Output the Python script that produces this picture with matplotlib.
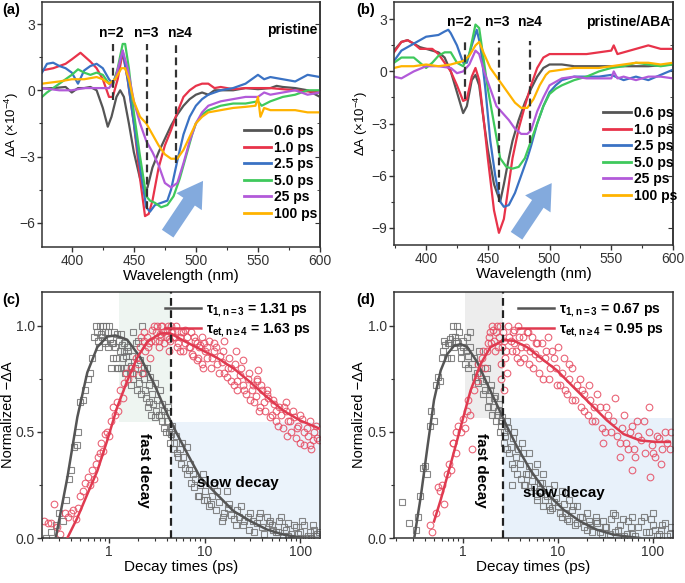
import matplotlib
matplotlib.use("Agg")
import matplotlib.pyplot as plt
from matplotlib.ticker import MultipleLocator, FixedLocator, FixedFormatter, NullFormatter, LogLocator

plt.rcParams['font.family'] = ['Liberation Sans', 'DejaVu Sans']
plt.rcParams['mathtext.fontset'] = 'custom'
plt.rcParams['mathtext.rm'] = 'Liberation Sans'
plt.rcParams['mathtext.bf'] = 'Liberation Sans:bold'
plt.rcParams['font.size'] = 10

# ---------------- panel (a): pristine spectra ----------------
labels = ['0.6 ps', '1.0 ps', '2.5 ps', '5.0 ps', '25 ps', '100 ps']
colors = ['#555555', '#e8334a', '#3a72c4', '#3fc95c', '#b25ad9', '#ffb300']

a_wl_06 = [376, 385, 395, 400, 405, 410, 415, 420, 425, 429, 432, 436, 439, 442, 446, 450, 455, 459, 461, 465, 470, 475, 480, 485, 490, 495, 500, 505, 510, 515, 520, 530, 540, 550, 560, 565, 570, 580, 590, 600]
a_da_06 = [0.08, 0.1, 0.15, -0.1, 0.1, 0.1, 0.15, 0.0, -0.8, -1.65, -1.2, -0.3, 0.0, -0.3, -1.5, -2.8, -4.0, -4.6, -4.4, -3.5, -2.8, -2.2, -1.6, -1.1, -0.7, -0.4, -0.2, -0.1, -0.2, 0.0, 0.0, 0.0, 0.1, 0.05, 0.1, 0.2, 0.15, 0.1, 0.0, -0.3]
a_wl_10 = [376, 385, 395, 400, 407, 415, 420, 425, 430, 433, 437, 441, 445, 450, 455, 459, 462, 465, 470, 475, 480, 485, 490, 495, 500, 505, 510, 515, 520, 530, 540, 560, 580, 600]
a_da_10 = [0.9, 1.0, 1.2, 1.4, 1.7, 1.3, 1.0, 0.5, -0.3, -0.3, 0.5, 1.7, 0.5, -1.5, -4.0, -5.7, -5.6, -5.0, -3.5, -2.5, -1.8, -1.0, -0.3, 0.0, 0.2, 0.3, 0.3, 0.1, 0.15, 0.05, 0.1, 0.1, 0.0, -0.1]
a_wl_25 = [376, 380, 385, 390, 395, 400, 405, 410, 415, 420, 425, 430, 433, 437, 441, 445, 450, 455, 460, 463, 467, 472, 477, 480, 485, 490, 495, 500, 505, 510, 520, 530, 540, 550, 555, 560, 570, 580, 590, 600]
a_da_25 = [0.8, 1.2, 1.25, 1.1, 1.0, 0.8, 0.3, 0.9, 1.1, 1.2, 1.0, 0.5, 0.3, 0.9, 1.8, 0.5, -1.5, -3.5, -5.3, -5.5, -5.2, -5.1, -5.0, -4.5, -3.2, -2.0, -1.2, -0.7, -0.4, -0.2, 0.0, 0.1, 0.3, 0.7, 0.5, 0.6, 0.5, 0.4, 0.7, 0.6]
a_wl_50 = [376, 380, 390, 400, 405, 410, 415, 420, 425, 430, 433, 437, 441, 443, 446, 450, 455, 460, 463, 467, 472, 477, 482, 487, 492, 497, 500, 505, 510, 520, 530, 540, 550, 553, 560, 570, 580, 590, 600]
a_da_50 = [-0.3, -0.1, 0.3, 0.7, 0.95, 0.8, 0.7, 0.8, 0.7, 0.3, 0.2, 1.0, 2.1, 2.1, 1.0, -1.0, -3.0, -4.8, -5.0, -5.1, -5.3, -5.2, -4.8, -4.0, -3.0, -2.0, -1.5, -1.1, -0.9, -0.7, -0.6, -0.6, -0.5, -0.7, -0.5, -0.3, -0.2, 0.0, 0.0]
a_wl_250 = [376, 390, 400, 410, 420, 430, 435, 441, 445, 450, 455, 460, 465, 470, 475, 480, 485, 490, 495, 500, 505, 510, 520, 530, 540, 550, 555, 560, 570, 580, 590, 600]
a_da_250 = [0.1, 0.0, 0.0, 0.1, 0.1, 0.1, 0.5, 1.8, 1.0, -0.5, -1.5, -2.3, -2.8, -3.4, -4.2, -4.4, -4.2, -3.3, -2.3, -1.5, -1.0, -0.7, -0.5, -0.4, -0.3, -0.3, -0.1, -0.2, -0.1, 0.0, -0.2, -0.1]
a_wl_1000 = [376, 390, 400, 410, 420, 425, 430, 435, 440, 443, 446, 450, 455, 460, 465, 470, 475, 480, 485, 490, 495, 500, 505, 510, 520, 530, 540, 548, 550, 552, 555, 560, 570, 580, 590, 600]
a_da_1000 = [0.3, 0.4, 0.5, 0.5, 0.6, 0.5, 0.3, 0.5, 1.0, 1.0, 0.5, -0.5, -1.2, -1.5, -2.0, -2.5, -2.9, -3.1, -3.1, -2.7, -2.1, -1.5, -1.2, -1.0, -0.9, -0.8, -0.75, -0.7, -0.3, -1.2, -0.8, -0.9, -0.9, -0.9, -1.0, -1.0]

# ---------------- panel (b): pristine/ABA spectra ----------------
b_wl_06 = [374, 380, 385, 390, 395, 400, 405, 410, 415, 420, 425, 430, 433, 437, 440, 443, 447, 450, 455, 460, 463, 467, 470, 475, 480, 485, 490, 495, 500, 510, 520, 540, 560, 580, 600]
b_da_06 = [1.2, 1.7, 1.8, 1.6, 1.4, 1.3, 1.2, 1.1, 0.8, 0.0, -1.2, -2.4, -2.0, -0.5, -0.2, -0.8, -3.0, -4.5, -6.5, -7.5, -6.5, -5.0, -4.0, -2.8, -1.8, -1.0, -0.3, 0.2, 0.4, 0.4, 0.3, 0.3, 0.3, 0.3, 0.4]
b_wl_10 = [374, 380, 385, 390, 395, 400, 405, 410, 415, 420, 425, 430, 433, 437, 440, 443, 447, 450, 455, 459, 463, 467, 470, 475, 480, 485, 490, 495, 500, 510, 520, 530, 540, 550, 552, 555, 560, 570, 580, 590, 600]
b_da_10 = [1.1, 1.7, 1.8, 1.6, 1.3, 1.3, 1.3, 1.0, 0.5, 0.0, -0.8, -1.7, -1.6, -0.3, 0.2, -0.5, -3.0, -5.0, -8.0, -9.3, -8.5, -6.5, -5.0, -3.3, -2.0, -0.8, 0.2, 0.8, 1.0, 1.0, 1.0, 1.0, 1.1, 1.2, 1.5, 1.0, 1.1, 1.3, 1.5, 1.3, 1.3]
b_wl_25 = [374, 380, 385, 390, 400, 410, 415, 418, 420, 425, 430, 433, 437, 441, 444, 448, 452, 456, 460, 463, 467, 472, 477, 482, 485, 490, 495, 500, 505, 510, 520, 530, 540, 550, 560, 570, 580, 590, 600]
b_da_25 = [0.6, 1.2, 1.4, 1.6, 2.0, 2.1, 2.3, 2.4, 2.2, 1.5, 0.5, 0.5, 1.5, 2.4, 1.5, -1.0, -4.0, -6.0, -7.5, -7.8, -7.7, -7.0, -6.0, -5.0, -4.3, -3.0, -2.0, -1.2, -0.8, -0.5, -0.3, -0.3, -0.3, -0.2, -0.5, -0.3, -0.5, -0.2, 0.1]
b_wl_50 = [374, 380, 390, 400, 405, 410, 415, 420, 425, 430, 435, 440, 443, 447, 450, 455, 460, 465, 470, 475, 480, 485, 490, 495, 500, 505, 510, 520, 530, 540, 550, 560, 570, 580, 590, 600]
b_da_50 = [0.5, 0.8, 0.8, 0.2, 0.5, 0.9, 1.1, 1.1, 0.5, 0.3, 1.0, 2.7, 2.5, 0.5, -1.0, -3.0, -5.0, -5.5, -5.6, -5.5, -5.0, -4.0, -3.0, -2.0, -1.3, -1.0, -0.8, -0.5, -0.3, 0.0, 0.2, 0.3, 0.5, 0.4, 0.3, 0.4]
b_wl_250 = [374, 380, 390, 400, 410, 420, 425, 430, 435, 440, 443, 447, 452, 457, 462, 467, 472, 477, 482, 485, 490, 495, 500, 505, 510, 520, 530, 540, 550, 552, 555, 560, 570, 580, 590, 600]
b_da_250 = [-0.3, -0.4, 0.0, 0.3, 0.3, 0.2, -0.1, 0.0, 0.4, 1.2, 1.0, 0.0, -1.0, -2.0, -2.4, -2.8, -3.3, -3.6, -3.6, -3.4, -2.3, -1.5, -0.8, -0.6, -0.4, -0.3, -0.4, -0.4, -0.4, 0.0, -0.4, -0.3, -0.5, -0.3, -0.3, -0.4]
b_wl_1000 = [374, 380, 390, 400, 410, 420, 430, 435, 440, 443, 447, 452, 457, 462, 467, 472, 477, 482, 487, 492, 497, 500, 510, 520, 530, 540, 550, 560, 570, 580, 590, 600]
b_da_1000 = [0.2, 0.3, 0.3, 0.4, 0.3, 0.4, 0.6, 0.9, 1.5, 1.7, 1.0, 0.2, -0.3, -0.8, -1.3, -1.8, -2.1, -2.1, -1.6, -0.8, -0.2, 0.0, 0.1, 0.2, 0.2, 0.2, 0.3, 0.4, 0.5, 0.5, 0.4, 0.5]

# ---------------- panel (c): pristine kinetics ----------------
c_t_n3 = [0.22, 0.25, 0.28, 0.30, 0.33, 0.36, 0.38, 0.40, 0.43, 0.46, 0.48, 0.50, 0.53, 0.56, 0.60, 0.63, 0.66, 0.70, 0.73, 0.76, 0.80, 0.83, 0.86, 0.90, 0.93, 0.97, 1.0, 1.05, 1.1, 1.15, 1.2, 1.25, 1.3, 1.4, 1.45, 1.5, 1.6, 1.7, 1.8, 1.9, 2.0, 2.1, 2.2, 2.3, 2.4, 2.5, 2.6, 2.8, 3.0, 3.2, 3.4, 3.6, 3.8, 4.0, 4.2, 4.4, 4.6, 4.8, 5.0, 5.5, 6.0, 6.5, 7.0, 7.5, 8.0, 9.0, 10, 11, 12, 13, 14, 16, 18, 20, 22, 25, 28, 30, 35, 40, 45, 50, 55, 60, 70, 80, 90, 100, 120, 140, 150,
          0.85, 1.1, 1.35, 1.55, 1.75, 2.0, 2.35, 2.7, 3.1, 3.5, 4.1, 4.5, 5.2, 5.8, 6.8, 8.5, 9.5, 10.5, 12.5, 15, 17, 24, 33, 38, 48, 65, 75, 110, 130]
c_y_n3 = [0.0, 0.03, 0.06, 0.12, 0.08, 0.18, 0.28, 0.32, 0.43, 0.44, 0.50, 0.64, 0.65, 0.70, 0.75, 0.78, 0.85, 0.95, 1.00, 0.93, 1.00, 0.96, 1.00, 0.92, 1.00, 0.97, 1.00, 0.80, 0.85, 0.90, 0.96, 0.80, 0.88, 0.85, 0.92, 0.80, 0.88, 0.81, 0.97, 0.92, 0.77, 0.84, 1.00, 0.75, 0.70, 0.80, 0.72, 0.68, 0.73, 0.65, 0.70, 0.63, 0.60, 0.55, 0.50, 0.49, 0.53, 0.45, 0.48, 0.42, 0.38, 0.43, 0.35, 0.30, 0.28, 0.25, 0.22, 0.15, 0.20, 0.13, 0.17, 0.12, 0.16, 0.09, 0.13, 0.06, 0.10, 0.12, 0.07, 0.05, 0.10, 0.06, 0.03, 0.08, 0.04, 0.02, 0.05, 0.03, 0.01, 0.04, 0.02,
          0.95, 0.92, 0.96, 0.90, 0.86, 0.93, 0.80, 0.76, 0.60, 0.58, 0.62, 0.52, 0.40, 0.45, 0.32, 0.20, 0.30, 0.18, 0.25, 0.08, 0.22, 0.15, 0.03, 0.12, 0.08, 0.01, 0.07, 0.06, 0.0]
c_t_n3_2 = [0.75, 0.78, 0.88, 0.92, 0.98, 1.02, 1.08, 1.12, 1.18, 1.22, 1.28, 1.33, 1.38, 1.42, 1.48, 1.52, 1.58, 1.65, 1.72, 1.78, 1.85, 1.95, 2.05, 2.15, 2.25, 2.45, 2.55, 2.65, 2.75, 2.9, 3.05, 3.3, 3.55, 3.75, 3.9, 4.3, 4.7, 5.3, 5.7, 6.2, 6.6, 7.2, 7.8, 8.8, 9.8, 11.5, 13.5, 15.5, 17.5, 19, 21, 23, 26, 29, 32, 37, 42, 47, 52, 58, 63, 68, 75, 85, 95, 105, 115, 125, 135, 145, 158]
c_y_n3_2 = [0.97, 0.90, 0.93, 0.97, 0.90, 0.94, 0.92, 0.97, 0.85, 0.80, 0.93, 0.80, 0.91, 0.88, 0.78, 0.86, 0.83, 0.78, 0.72, 0.75, 0.80, 0.70, 0.73, 0.68, 0.78, 0.66, 0.62, 0.64, 0.58, 0.63, 0.57, 0.58, 0.55, 0.52, 0.50, 0.45, 0.42, 0.38, 0.35, 0.33, 0.30, 0.26, 0.24, 0.20, 0.18, 0.16, 0.22, 0.10, 0.14, 0.11, 0.06, 0.10, 0.08, 0.04, 0.08, 0.10, 0.02, 0.07, 0.04, 0.03, 0.10, 0.05, 0.01, 0.06, 0.02, 0.08, 0.00, 0.03, 0.06, 0.01, 0.03]
c_t_n4 = [0.21, 0.23, 0.25, 0.27, 0.29, 0.31, 0.35, 0.37, 0.40, 0.42, 0.45, 0.48, 0.50, 0.53, 0.56, 0.60, 0.63, 0.66, 0.70, 0.73, 0.76, 0.80, 0.83, 0.86, 0.90, 0.95, 1.0, 1.05, 1.1, 1.15, 1.2, 1.25, 1.3, 1.4, 1.45, 1.5, 1.6, 1.7, 1.8, 1.9, 2.0, 2.1, 2.2, 2.3, 2.4, 2.5, 2.6, 2.8, 3.0, 3.2, 3.4, 3.6, 3.8, 4.0, 4.2, 4.4, 4.7, 5.0, 5.3, 5.6, 6.0, 6.5, 7.0, 7.5, 8.0, 8.5, 9.0, 9.5, 10, 11, 12, 13, 14, 15, 16, 17, 18, 19, 20, 21, 22, 24, 26, 28, 30, 32, 34, 36, 38, 40, 43, 46, 50, 53, 56, 60, 65, 70, 75, 80, 85, 90, 95, 100, 110, 120, 130, 140, 150, 155,
          2.7, 3.3, 3.5, 4.2, 4.5, 5.5, 6.2, 7.2, 8.3, 9.3, 10.5, 12.5, 15.5, 25, 35, 45, 70, 105, 125]
c_y_n4 = [0.08, 0.07, 0.07, 0.16, 0.05, 0.02, 0.12, 0.10, 0.12, 0.13, 0.09, 0.14, 0.20, 0.22, 0.26, 0.29, 0.25, 0.32, 0.28, 0.35, 0.38, 0.40, 0.45, 0.41, 0.49, 0.50, 0.48, 0.55, 0.62, 0.58, 0.64, 0.60, 0.70, 0.66, 0.73, 0.78, 0.75, 0.80, 0.78, 0.85, 0.82, 0.90, 0.78, 0.93, 0.88, 0.95, 0.92, 0.98, 0.93, 1.00, 0.96, 1.00, 0.92, 0.98, 0.88, 1.00, 0.95, 1.00, 0.92, 0.97, 0.88, 0.95, 0.90, 0.86, 0.93, 0.85, 0.91, 0.80, 0.88, 0.93, 0.85, 0.90, 0.78, 0.83, 0.93, 0.76, 0.85, 0.80, 0.72, 0.88, 0.74, 0.80, 0.70, 0.75, 0.65, 0.72, 0.67, 0.79, 0.62, 0.70, 0.60, 0.66, 0.58, 0.63, 0.55, 0.62, 0.52, 0.60, 0.55, 0.50, 0.57, 0.47, 0.53, 0.45, 0.50, 0.48, 0.42, 0.50, 0.47, 0.46,
          0.85, 0.90, 0.95, 0.94, 0.97, 0.95, 0.98, 0.97, 0.92, 0.95, 0.90, 0.92, 0.88, 0.84, 0.74, 0.68, 0.64, 0.56, 0.44]
c_t_n4_2 = [2.15, 2.35, 2.55, 2.75, 2.95, 3.1, 3.3, 3.5, 3.7, 3.9, 4.1, 4.3, 4.6, 4.9, 5.2, 5.5, 5.9, 6.3, 6.8, 7.3, 7.8, 8.3, 8.8, 9.3, 9.8, 10.5, 11.5, 12.5, 13.5, 14.5, 16, 17.5, 19, 20.5, 22, 23.5, 25, 27, 29, 31, 33, 35, 37, 39, 42, 45, 48, 52, 55, 58, 62, 67, 72, 78, 84, 92, 100, 108, 116, 125, 135, 145]
c_y_n4_2 = [0.95, 0.97, 0.90, 0.93, 1.00, 0.97, 0.93, 1.00, 0.97, 0.95, 1.00, 0.93, 0.97, 0.95, 0.90, 0.88, 0.97, 0.92, 0.90, 0.87, 0.95, 0.84, 0.90, 0.82, 0.92, 0.85, 0.80, 0.88, 0.82, 0.86, 0.78, 0.80, 0.74, 0.82, 0.70, 0.77, 0.72, 0.68, 0.78, 0.70, 0.64, 0.75, 0.60, 0.72, 0.64, 0.70, 0.57, 0.65, 0.60, 0.53, 0.58, 0.62, 0.48, 0.55, 0.60, 0.52, 0.58, 0.44, 0.52, 0.55, 0.46, 0.53]
c_fit_t_n3 = [0.278, 0.368, 0.468, 0.594, 0.756, 0.96, 1.17, 1.55, 2.14, 2.94, 4.05, 5.15, 6.55, 9.0, 13.4, 20.0, 29.9, 44.6, 66.5, 99.3, 160]
c_fit_y_n3 = [0.0, 0.285, 0.57, 0.78, 0.90, 0.95, 0.955, 0.935, 0.85, 0.73, 0.585, 0.49, 0.40, 0.285, 0.206, 0.127, 0.08, 0.04, 0.016, 0.003, 0.0]
c_fit_t_n4 = [0.368, 0.468, 0.594, 0.756, 0.96, 1.22, 1.55, 1.97, 2.51, 3.45, 4.38, 6.04, 9.0, 13.4, 20.0, 29.9, 44.6, 66.5, 99.3, 160]
c_fit_y_n4 = [0.0, 0.095, 0.206, 0.316, 0.46, 0.617, 0.74, 0.85, 0.925, 0.965, 0.965, 0.93, 0.89, 0.85, 0.80, 0.735, 0.665, 0.60, 0.554, 0.515]

# ---------------- panel (d): pristine/ABA kinetics ----------------
d_t_n3 = [0.23, 0.27, 0.32, 0.34, 0.36, 0.38, 0.40, 0.42, 0.45, 0.47, 0.50, 0.52, 0.55, 0.58, 0.60, 0.63, 0.66, 0.70, 0.73, 0.76, 0.80, 0.83, 0.87, 0.90, 0.95, 1.0, 1.05, 1.1, 1.15, 1.2, 1.3, 1.4, 1.5, 1.6, 1.7, 1.8, 1.9, 2.0, 2.1, 2.2, 2.3, 2.4, 2.5, 2.6, 2.8, 3.0, 3.2, 3.4, 3.6, 3.8, 4.0, 4.3, 4.6, 5.0, 5.4, 5.8, 6.3, 6.8, 7.3, 8.0, 8.7, 9.5, 10.5, 11.5, 12.5, 14, 15, 17, 19, 21, 23, 26, 29, 32, 36, 40, 45, 50, 55, 60, 70, 80, 90, 100, 110, 120, 135, 150,
          2.5, 2.7, 2.9, 3.5, 4.2, 5.0, 6.0, 7.0, 9.0, 11, 13, 16, 20, 25, 30, 40, 60, 100, 3.3, 4.5, 6.0, 8.0]
d_y_n3 = [0.17, 0.07, 0.04, 0.10, 0.20, 0.33, 0.34, 0.30, 0.53, 0.60, 0.55, 0.72, 0.76, 0.74, 0.85, 0.93, 0.91, 0.92, 0.94, 0.85, 1.00, 0.95, 1.00, 0.92, 0.88, 0.90, 0.82, 0.95, 0.86, 0.97, 0.85, 0.78, 0.88, 0.74, 0.70, 0.80, 0.65, 0.72, 0.62, 0.67, 0.58, 0.63, 0.53, 0.57, 0.48, 0.52, 0.43, 0.47, 0.38, 0.42, 0.35, 0.40, 0.30, 0.34, 0.27, 0.31, 0.22, 0.26, 0.18, 0.23, 0.14, 0.19, 0.12, 0.16, 0.09, 0.13, 0.06, 0.10, 0.05, 0.08, 0.03, 0.07, 0.02, 0.05, 0.09, 0.03, 0.06, 0.01, 0.08, 0.02, 0.05, 0.10, 0.03, 0.06, 0.01, 0.04, 0.07, 0.02,
          0.55, 0.50, 0.55, 0.50, 0.45, 0.40, 0.35, 0.30, 0.25, 0.22, 0.18, 0.15, 0.12, 0.10, 0.08, 0.11, 0.10, 0.12, 0.25, 0.25, 0.20, 0.15]
d_t_n3_2 = [0.62, 0.68, 0.72, 0.78, 0.82, 0.86, 0.92, 0.97, 1.02, 1.08, 1.13, 1.18, 1.25, 1.35, 1.45, 1.55, 1.65, 1.75, 1.85, 1.95, 2.05, 2.15, 2.25, 2.35, 2.45, 2.7, 2.9, 3.1, 3.3, 3.5, 3.7, 4.1, 4.4, 4.8, 5.2, 5.6, 6.0, 6.5, 7.0, 7.6, 8.3, 9.0, 10, 11, 12, 13, 14.5, 16, 18, 20, 22, 25, 28, 31, 35, 38, 43, 48, 53, 58, 65, 75, 85, 95, 105, 115, 125, 140, 155]
d_y_n3_2 = [0.88, 0.85, 0.92, 0.95, 0.90, 0.93, 0.97, 0.85, 0.93, 0.88, 0.80, 0.90, 0.82, 0.76, 0.73, 0.80, 0.68, 0.75, 0.62, 0.70, 0.58, 0.66, 0.55, 0.60, 0.50, 0.45, 0.42, 0.40, 0.35, 0.33, 0.30, 0.28, 0.25, 0.30, 0.22, 0.24, 0.18, 0.26, 0.15, 0.20, 0.13, 0.17, 0.15, 0.10, 0.12, 0.08, 0.15, 0.07, 0.10, 0.04, 0.06, 0.08, 0.03, 0.05, 0.02, 0.12, 0.04, 0.09, 0.02, 0.05, 0.01, 0.08, 0.03, 0.09, 0.04, 0.02, 0.06, 0.01, 0.05]
d_t_n4 = [0.45, 0.48, 0.52, 0.55, 0.58, 0.60, 0.63, 0.68, 0.72, 0.75, 0.80, 0.85, 0.90, 0.95, 1.0, 1.05, 1.1, 1.15, 1.2, 1.3, 1.4, 1.5, 1.6, 1.7, 1.8, 1.9, 2.0, 2.1, 2.2, 2.3, 2.4, 2.6, 2.8, 3.0, 3.2, 3.4, 3.6, 3.8, 4.0, 4.3, 4.6, 5.0, 5.4, 5.8, 6.3, 6.8, 7.3, 8.0, 8.7, 9.5, 10.5, 11.5, 12.5, 14, 15, 17, 19, 21, 23, 26, 29, 32, 36, 40, 45, 50, 55, 60, 65, 70, 80, 90, 100, 110, 120, 135, 150,
          0.8, 0.85, 1.25, 2.5, 2.7, 2.9, 93, 60, 45, 30, 3.5, 4.8, 6.0, 7.8, 10, 13, 18, 24]
d_y_n4 = [0.06, 0.03, 0.12, 0.24, 0.22, 0.25, 0.16, 0.30, 0.35, 0.32, 0.45, 0.40, 0.53, 0.50, 0.56, 0.52, 0.60, 0.65, 0.58, 0.70, 0.74, 0.78, 0.85, 0.80, 0.88, 0.95, 0.92, 0.98, 0.88, 1.00, 0.95, 0.90, 0.85, 1.00, 0.93, 0.97, 0.88, 1.00, 0.83, 0.95, 0.90, 0.82, 0.95, 0.87, 0.78, 0.92, 0.85, 0.75, 0.88, 0.80, 0.72, 0.85, 0.68, 0.80, 0.65, 0.75, 0.60, 0.72, 0.55, 0.68, 0.52, 0.62, 0.50, 0.66, 0.45, 0.58, 0.42, 0.53, 0.38, 0.48, 0.55, 0.62, 0.40, 0.48, 0.35, 0.50, 0.42,
          0.45, 0.50, 0.42, 0.75, 0.70, 0.78, 0.29, 0.32, 0.38, 0.45, 0.98, 0.97, 0.92, 0.95, 0.90, 0.75, 0.70, 0.62]
d_t_n4_2 = [1.45, 1.65, 1.85, 1.95, 2.05, 2.15, 2.25, 2.35, 2.45, 2.55, 2.65, 2.75, 2.85, 3.1, 3.3, 3.5, 3.7, 3.9, 4.1, 4.4, 4.7, 5.1, 5.5, 5.9, 6.4, 6.9, 7.5, 8.2, 9.0, 9.8, 11, 12, 13, 14, 16, 17.5, 19, 20.5, 22, 24.5, 27.5, 31, 34, 38, 42, 47, 52, 57, 63, 68, 75, 82, 90, 98, 105, 115, 125, 140, 155]
d_y_n4_2 = [0.82, 0.88, 0.92, 0.97, 1.00, 0.93, 0.97, 0.90, 1.00, 0.82, 0.97, 0.93, 0.88, 0.95, 0.88, 0.92, 0.85, 0.95, 0.90, 0.85, 0.97, 0.88, 0.80, 0.92, 0.85, 0.75, 0.88, 0.80, 0.85, 0.72, 0.78, 0.70, 0.82, 0.65, 0.72, 0.62, 0.68, 0.58, 0.65, 0.55, 0.62, 0.50, 0.58, 0.55, 0.48, 0.52, 0.45, 0.50, 0.42, 0.55, 0.46, 0.40, 0.50, 0.44, 0.38, 0.47, 0.42, 0.45, 0.50]
d_fit_t_n3 = [0.31, 0.363, 0.427, 0.50, 0.588, 0.69, 0.81, 0.953, 1.12, 1.42, 1.81, 2.31, 2.94, 3.73, 5.15, 7.7, 11.5, 17.2, 25.7, 38.4, 57.4, 73]
d_fit_y_n3 = [0.0, 0.195, 0.43, 0.65, 0.79, 0.867, 0.906, 0.914, 0.90, 0.83, 0.727, 0.625, 0.523, 0.43, 0.32, 0.21, 0.133, 0.078, 0.039, 0.016, 0.005, 0.0]
d_fit_t_n4 = [0.50, 0.588, 0.75, 0.953, 1.21, 1.54, 1.96, 2.71, 3.45, 4.75, 6.56, 9.8, 14.7, 21.9, 32.7, 49, 73, 109, 150]
d_fit_y_n4 = [0.078, 0.18, 0.35, 0.523, 0.695, 0.82, 0.90, 0.933, 0.93, 0.90, 0.85, 0.79, 0.71, 0.633, 0.555, 0.49, 0.46, 0.453, 0.453]

W, H = 685, 583
fig = plt.figure(figsize=(6.85, 5.83), dpi=100)


def box(l, t, r, b):
    return [l / W, 1 - b / H, (r - l) / W, (b - t) / H]


def style(ax):
    for s in ax.spines.values():
        s.set_linewidth(1.1)
        s.set_color('#333333')
    ax.tick_params(which='both', direction='out', labelsize=10, colors='#333333', pad=1.5)
    ax.tick_params(which='major', length=3.5, width=1)
    ax.tick_params(which='minor', length=2.2, width=0.8)


def arrow(ax, p0, p1):
    ax.annotate('', xy=p1, xytext=p0,
                arrowprops=dict(arrowstyle='simple,head_width=1.1,head_length=0.9,tail_width=0.5',
                                color='#6d9bd8', alpha=0.85, lw=0, mutation_scale=20), zorder=1)


spec = [
    (box(42, 2, 320, 247), (376, 600), (-7.1, 4.0), [-6, -3, 0, 3],
     [(a_wl_06, a_da_06), (a_wl_10, a_da_10), (a_wl_25, a_da_25), (a_wl_50, a_da_50), (a_wl_250, a_da_250), (a_wl_1000, a_da_1000)],
     [(433, -0.45), (461, -5.4), (484, -3.3)], 2.1, 2.6, [432, 460, 487], 'pristine', 578, 2.75,
     ((476, -6.6), (507, -4.0)), (0.70, 0.53), -0.074),
    (box(394, 2, 673, 245), (374, 600), (-10.0, 4.0), [-9, -6, -3, 0, 3],
     [(b_wl_06, b_da_06), (b_wl_10, b_da_10), (b_wl_25, b_da_25), (b_wl_50, b_da_50), (b_wl_250, b_da_250), (b_wl_1000, b_da_1000)],
     [(431.5, -1.6), (459, -7.5), (484, -4.1)], 1.75, 2.85, [427, 458, 484], 'pristine/ABA', 564, 2.85,
     ((472, -9.6), (503, -6.3)), (0.725, 0.60), -0.086),
]

for pos, xl, yl, yt, series, dash, dtop, ltxt, lx, title, tx, ty, arr, lpos, ylx in spec:
    ax = fig.add_axes(pos)
    style(ax)
    for (wl, da), c, lab in zip(series, colors, labels):
        ax.plot(wl, da, color=c, lw=1.6, label=lab)
    for x, yb in dash:
        ax.plot([x, x], [yb, dtop], color='#333333', ls=(0, (3.5, 2)), lw=1.6, zorder=5)
    for x, t in zip(lx, ['n=2', 'n=3', 'n\u22654']):
        ax.text(x, ltxt, t, ha='center', va='center', fontweight='bold', fontsize=10)
    ax.text(tx, ty, title, ha='center', va='center', fontweight='bold', fontsize=10)
    arrow(ax, *arr)
    ax.set_xlim(*xl)
    ax.set_ylim(*yl)
    ax.set_yticks(yt)
    ax.yaxis.set_minor_locator(MultipleLocator(1.5))
    ax.xaxis.set_major_locator(MultipleLocator(50))
    ax.xaxis.set_minor_locator(MultipleLocator(25))
    ax.set_xlabel('Wavelength (nm)', fontsize=11, labelpad=1)
    ax.set_ylabel('\u0394A (\u00d710$^{-4}$)', fontsize=9.5)
    ax.yaxis.set_label_coords(ylx, 0.5)
    sec = ax.secondary_yaxis('right')
    sec.set_yticks(yt)
    sec.yaxis.set_minor_locator(MultipleLocator(1.5))
    sec.tick_params(which='both', direction='in', labelright=False, colors='#333333')
    sec.tick_params(which='major', length=3.5)
    sec.tick_params(which='minor', length=2.2)
    sec.spines['right'].set_linewidth(1.1)
    sec.spines['right'].set_color('#333333')
    leg = ax.legend(loc='upper left', bbox_to_anchor=lpos, frameon=False, handlelength=2.0,
                    handletextpad=0.2, labelspacing=0.18, borderpad=0, prop={'weight': 'bold', 'size': 10})
    for h in leg.get_lines():
        h.set_linewidth(2.0)

kin = [
    (box(42, 292, 320, 538), (0.2, 160), 4.4, 1.27, 0.546, '#eef5f1', '#ebf3fb',
     (c_t_n3 + c_t_n3_2, c_y_n3 + c_y_n3_2), (c_t_n4 + c_t_n4_2, c_y_n4 + c_y_n4_2),
     (c_fit_t_n3, c_fit_y_n3), (c_fit_t_n4, c_fit_y_n4),
     ['\u03c4$_{\\mathbf{1,n=3}}$ = 1.31 ps', '\u03c4$_{\\mathbf{et,n\\geq4}}$ = 1.63 ps'],
     (2.3, 0.32), (22, 0.26), -0.097),
    (box(394, 292, 673, 538), (0.19, 162), 2.64, 1.05, 0.565, '#ededed', '#e8f1fa',
     (d_t_n3 + d_t_n3_2, d_y_n3 + d_y_n3_2), (d_t_n4 + d_t_n4_2, d_y_n4 + d_y_n4_2),
     (d_fit_t_n3, d_fit_y_n3), (d_fit_t_n4, d_fit_y_n4),
     ['\u03c4$_{\\mathbf{1,n=3}}$ = 0.67 ps', '\u03c4$_{\\mathbf{et,n\\geq4}}$ = 0.95 ps'],
     (1.55, 0.32), (11.5, 0.21), -0.1),
]

for pos, xl, xd, xf, yshade, cf, cs, sq, ci, f3, f4, labs, fpos, spos, ylx in kin:
    ax = fig.add_axes(pos)
    style(ax)
    ax.set_xscale('log')
    ax.set_xlim(*xl)
    ax.set_ylim(0, 1.16)
    ax.axvspan(xf, xd, ymin=yshade / 1.16, ymax=1, color=cf, lw=0, zorder=0)
    ax.axvspan(xd, xl[1], ymin=0, ymax=yshade / 1.16, color=cs, lw=0, zorder=0)
    ax.plot(sq[0], sq[1], ls='none', marker='s', ms=4.4, mfc='none', mec='#727272', mew=0.8, alpha=0.85, zorder=2)
    ax.plot(ci[0], ci[1], ls='none', marker='o', ms=4.8, mfc='none', mec='#e64a60', mew=0.8, alpha=0.85, zorder=2)
    l1, = ax.plot(f3[0], f3[1], color='#555555', lw=1.8, zorder=3)
    l2, = ax.plot(f4[0], f4[1], color='#e03a50', lw=1.8, zorder=3)
    ax.axvline(xd, color='#222222', ls=(0, (3.5, 2)), lw=1.6, zorder=4)
    ax.text(*fpos, 'fast decay', rotation=270, ha='center', va='center', fontweight='bold', fontsize=11)
    ax.text(*spos, 'slow decay', ha='center', va='center', fontweight='bold', fontsize=11)
    ax.legend([l1, l2], labs, loc='upper right', bbox_to_anchor=(0.995, 0.995), frameon=False,
              handlelength=2.6, handletextpad=0.3, labelspacing=0.2, borderpad=0.1,
              prop={'weight': 'bold', 'size': 10})
    ax.set_yticks([0.0, 0.5, 1.0])
    ax.yaxis.set_minor_locator(MultipleLocator(0.25))
    ax.xaxis.set_major_locator(FixedLocator([1, 10, 100]))
    ax.xaxis.set_major_formatter(FixedFormatter(['1', '10', '100']))
    ax.xaxis.set_minor_locator(LogLocator(base=10, subs=range(2, 10)))
    ax.xaxis.set_minor_formatter(NullFormatter())
    ax.set_xlabel('Decay times (ps)', fontsize=11, labelpad=1)
    ax.set_ylabel('Normalized \u2212\u0394A', fontsize=10.5)
    ax.yaxis.set_label_coords(ylx, 0.5)

for x, y, t in [(2, 10, '(a)'), (356, 10, '(b)'), (2, 300, '(c)'), (356, 300, '(d)')]:
    fig.text(x / W, 1 - y / H, t, fontweight='bold', fontsize=10.5, va='center', ha='left')

fig.savefig('out.png', dpi=100)
